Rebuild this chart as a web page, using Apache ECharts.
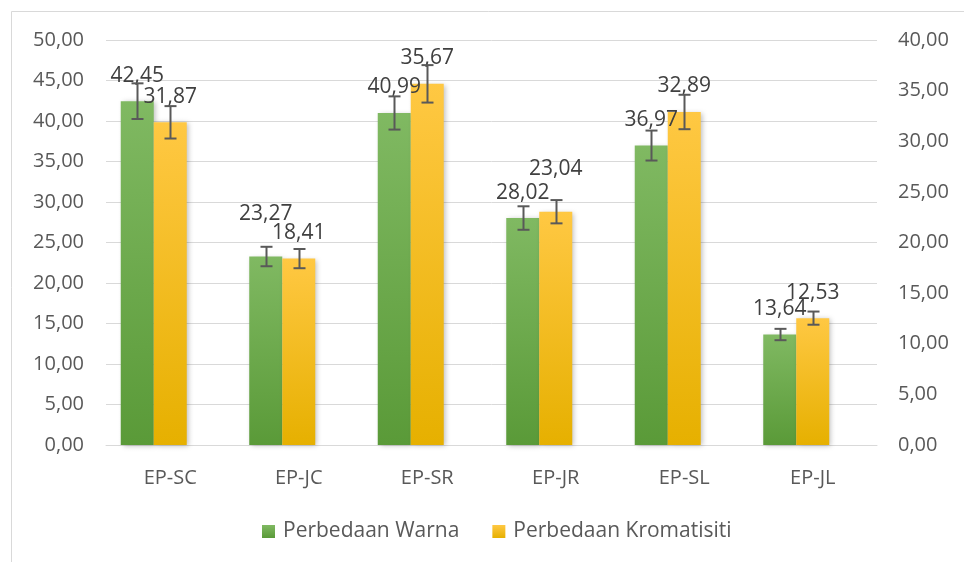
<!DOCTYPE html>
<html>
<head>
<meta charset="utf-8">
<script src="https://cdn.jsdelivr.net/npm/echarts@6/dist/echarts.min.js"></script>
<style>
  html, body { margin: 0; padding: 0; background: #ffffff; }
  #chart { width: 964px; height: 562px; }
</style>
</head>
<body>
<div id="chart"></div>
<script>
// Sample categories
const categories = ['EP-SC', 'EP-JC', 'EP-SR', 'EP-JR', 'EP-SL', 'EP-JL'];

// Colour difference (left axis) and chromaticity difference (right axis)
const warna = [42.45, 23.27, 40.99, 28.02, 36.97, 13.64];
const kromatisiti = [31.87, 18.41, 35.67, 23.04, 32.89, 12.53];

// Standard deviations shown as error bars
const warnaError = [2.2, 1.2, 2.05, 1.45, 1.85, 0.7];
const kromatisitiError = [1.6, 0.95, 1.85, 1.15, 1.7, 0.65];

// Axis tick settings
const leftAxis = { min: 0, max: 50, interval: 5 };
const rightAxis = { min: 0, max: 40, interval: 5 };

const seriesNames = ['Perbedaan Warna', 'Perbedaan Kromatisiti'];

const FONT = '"Open Sans", "Noto Sans", sans-serif';
const BAR_W = 33;
const comma = v => v.toFixed(2).replace('.', ',');

// Labels lifted a little higher so neighbouring labels do not collide
const liftedWarna = [1];
const liftedKromatisiti = [3];

function barData(values, lifted) {
  return values.map((v, i) => lifted.includes(i)
    ? { value: v, label: { distance: 32 } }
    : v);
}

function gradient(top, bottom) {
  return new echarts.graphic.LinearGradient(0, 0, 0, 1, [
    { offset: 0, color: top },
    { offset: 1, color: bottom }
  ]);
}

function errorBars(values, errors, yAxisIndex, slotOffset) {
  return {
    type: 'custom',
    yAxisIndex: yAxisIndex,
    z: 5,
    silent: true,
    data: values.map((v, i) => [i, v - errors[i], v + errors[i]]),
    encode: { x: 0, y: [1, 2] },
    renderItem: function (params, api) {
      const lo = api.coord([api.value(0), api.value(1)]);
      const hi = api.coord([api.value(0), api.value(2)]);
      const x = Math.round(lo[0] + slotOffset) + 0.5;
      const cap = 6;
      const style = { stroke: '#595959', lineWidth: 2 };
      return {
        type: 'group',
        children: [
          { type: 'line', shape: { x1: x, y1: hi[1], x2: x, y2: lo[1] }, style: style },
          { type: 'line', shape: { x1: x - cap, y1: hi[1], x2: x + cap, y2: hi[1] }, style: style },
          { type: 'line', shape: { x1: x - cap, y1: lo[1], x2: x + cap, y2: lo[1] }, style: style }
        ]
      };
    }
  };
}

const valueLabel = {
  show: true,
  position: 'top',
  distance: 15,
  color: '#404040',
  fontSize: 21,
  fontFamily: FONT,
  formatter: p => comma(p.value)
};

const barShadow = {
  shadowBlur: 5,
  shadowOffsetX: 2,
  shadowOffsetY: 1,
  shadowColor: 'rgba(0,0,0,0.25)'
};

const chart = echarts.init(document.getElementById('chart'), null, { renderer: 'canvas' });

chart.setOption({
  animation: false,
  backgroundColor: '#ffffff',
  textStyle: { fontFamily: FONT },
  graphic: [{
    type: 'rect',
    shape: { x: 11.5, y: 11.5, width: 1000, height: 1000 },
    style: { fill: 'none', stroke: '#d9d9d9', lineWidth: 1 },
    silent: true,
    z: -10
  }],
  grid: { left: 106, right: 87, top: 40, bottom: 117, containLabel: false },
  legend: {
    data: seriesNames,
    bottom: 15,
    left: 257,
    icon: 'rect',
    itemWidth: 13,
    itemHeight: 13,
    itemGap: 33,
    textStyle: { color: '#595959', fontSize: 21, fontFamily: FONT, padding: [0, 0, 0, 3] }
  },
  xAxis: {
    type: 'category',
    data: categories,
    axisLine: { show: true, lineStyle: { color: '#d9d9d9', width: 1 } },
    axisTick: { show: false },
    axisLabel: { color: '#595959', fontSize: 20, fontFamily: FONT, margin: 23 }
  },
  yAxis: [
    {
      type: 'value',
      min: leftAxis.min, max: leftAxis.max, interval: leftAxis.interval,
      axisLine: { show: false },
      axisTick: { show: false },
      splitLine: { lineStyle: { color: '#d9d9d9', width: 1 } },
      axisLabel: { color: '#595959', fontSize: 20, fontFamily: FONT, margin: 22, formatter: comma }
    },
    {
      type: 'value',
      position: 'right',
      min: rightAxis.min, max: rightAxis.max, interval: rightAxis.interval,
      axisLine: { show: false },
      axisTick: { show: false },
      splitLine: { show: false },
      axisLabel: { color: '#595959', fontSize: 20, fontFamily: FONT, margin: 21, formatter: comma }
    }
  ],
  series: [
    {
      name: seriesNames[0],
      type: 'bar',
      yAxisIndex: 0,
      barWidth: BAR_W,
      barGap: '0%',
      data: barData(warna, liftedWarna),
      itemStyle: Object.assign({ color: gradient('#80b962', '#5a9a38') }, barShadow),
      label: valueLabel,
      z: 2
    },
    {
      name: seriesNames[1],
      type: 'bar',
      yAxisIndex: 1,
      barWidth: BAR_W,
      barGap: '0%',
      data: barData(kromatisiti, liftedKromatisiti),
      itemStyle: Object.assign({ color: gradient('#ffc843', '#e6b000') }, barShadow),
      label: valueLabel,
      z: 2
    },
    {
      // empty third slot in each category group
      name: 'slot',
      type: 'bar',
      yAxisIndex: 0,
      barWidth: BAR_W,
      barGap: '0%',
      data: categories.map(() => null),
      silent: true
    },
    errorBars(warna, warnaError, 0, -BAR_W),
    errorBars(kromatisiti, kromatisitiError, 1, 0)
  ]
});
</script>
</body>
</html>
